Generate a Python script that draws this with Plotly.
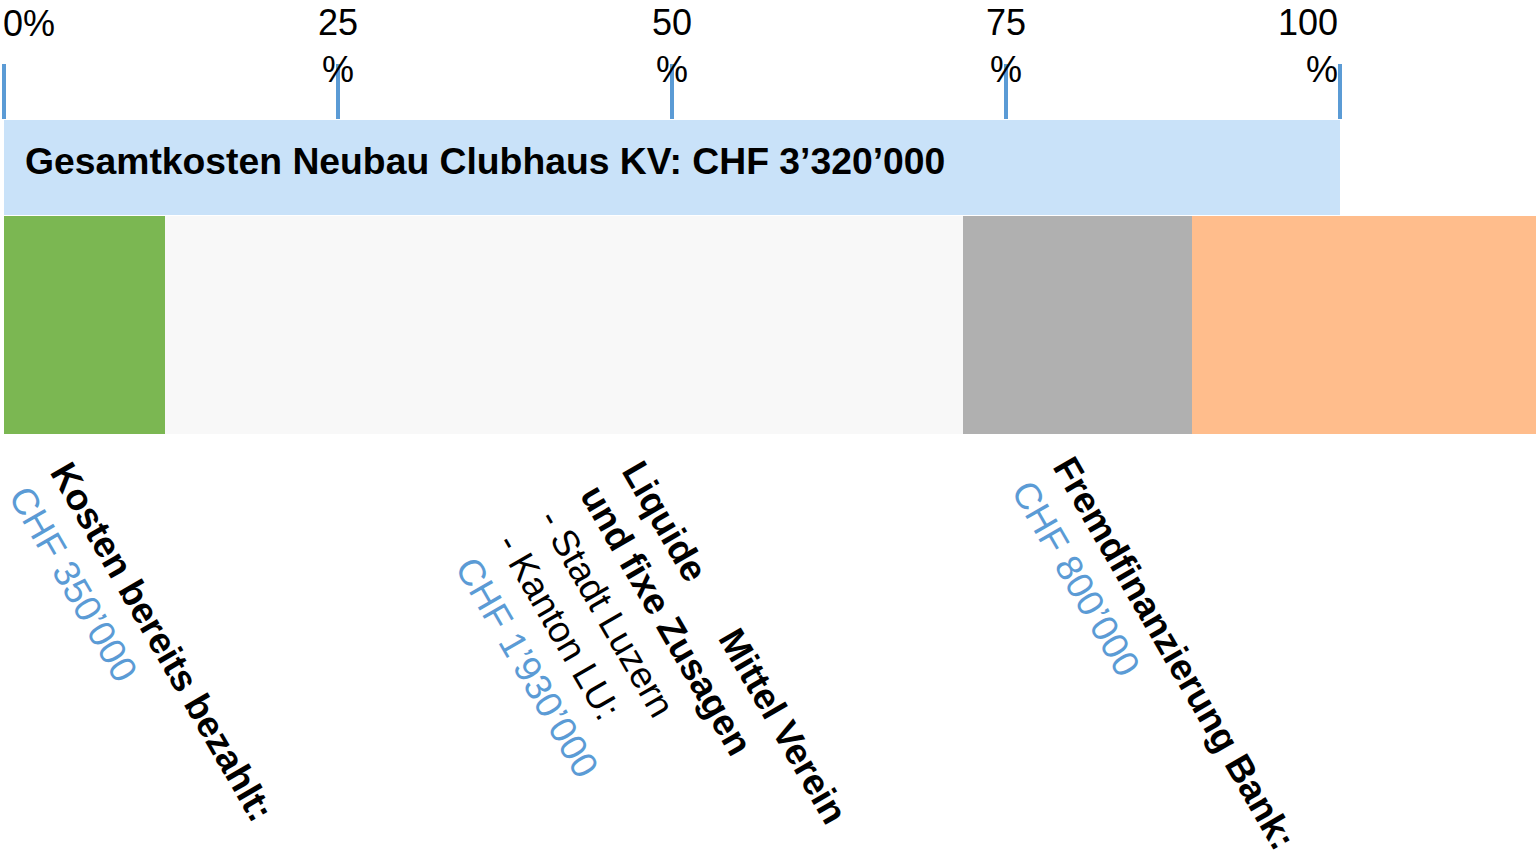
import numpy as np
import plotly.graph_objects as go

# ---------------- data ----------------
segment_names = ["Kosten bereits bezahlt", "Liquide Mittel Verein und fixe Zusagen",
                 "Fremdfinanzierung Bank", "Rest"]
segment_shares = [12.05, 59.7, 17.15, 25.8]          # percent of total cost (as drawn)
total_share = [100]                                   # Gesamtkosten = 100 %
total_label = "Gesamtkosten Neubau Clubhaus KV: CHF 3’320’000"
tick_values = [0, 25, 50, 75, 100]
tick_labels = ["0%", "25<br>%", "50<br>%", "75<br>%", "100<br>%"]
label_titles = ["Kosten bereits bezahlt:",
                "Liquide\u00a0\u00a0\u00a0\u00a0\u00a0\u00a0Mittel Verein<br>und fixe Zusagen",
                "Fremdfinanzierung Bank:"]
label_details = ["", "- Stadt Luzern<br>- Kanton LU:", ""]
label_amounts = ["CHF 350’000", "CHF 1’930’000", "CHF 800’000"]

# ---------------- style ----------------
seg_colors = ["#7bb752", "#f8f8f8", "#b0b0b0", "#ffbd8c"]
band_color = "#c9e2f9"
blue = "#5b9bd5"
FONT = "Liberation Sans, Arial, Helvetica, sans-serif"

W, H = 1536, 857
TOP = 120                      # plot area top (pixels)
PX_PER_PCT = 13.36
X0 = -4 / PX_PER_PCT
X1 = X0 + W / PX_PER_PCT

bases = np.concatenate([[0], np.cumsum(segment_shares)[:-1]])

fig = go.Figure()

# total band
fig.add_trace(go.Bar(orientation="h", y=[47.5], x=total_share, base=[0], width=[95],
                     marker=dict(color=band_color, line=dict(width=0)),
                     hoverinfo="skip", showlegend=False))
# segments
for name, share, b, c in zip(segment_names, segment_shares, bases, seg_colors):
    fig.add_trace(go.Bar(orientation="h", y=[205], x=[share], base=[b], width=[218],
                         name=name, marker=dict(color=c, line=dict(width=0)),
                         showlegend=False))

ann = []
ann.append(dict(x=0, y=47.5, xref="x", yref="y", text=f"<b>{total_label}</b>",
                showarrow=False, xanchor="left", yanchor="middle", xshift=19, yshift=7,
                font=dict(family=FONT, size=37.3, color="black")))

# tick labels
for v, t in zip(tick_values, tick_labels):
    if v == 0:
        ann.append(dict(x=v, y=1, xref="x", yref="paper", text=t, showarrow=False,
                        xanchor="left", yanchor="middle", yshift=TOP - 23, xshift=-3,
                        font=dict(family=FONT, size=36, color="black")))
    elif v == 100:
        ann.append(dict(x=v, y=1, xref="x", yref="paper", text=t, showarrow=False,
                        xanchor="right", yanchor="middle", align="right",
                        yshift=TOP - 46, xshift=0,
                        font=dict(family=FONT, size=36, color="black")))
    else:
        ann.append(dict(x=v, y=1, xref="x", yref="paper", text=t, showarrow=False,
                        xanchor="center", yanchor="middle", yshift=TOP - 46,
                        font=dict(family=FONT, size=36, color="black")))

# rotated category labels (pixel centres -> data)
centres_px = [(141, 653.4), (651.5, 690.4), (1154, 665)]
for (cx, cy), t, d, a in zip(centres_px, label_titles, label_details, label_amounts):
    txt = f"<b>{t}</b>"
    if d:
        txt += "<br>" + d
    txt += f"<br><span style='color:{blue}'>{a}</span>"
    ann.append(dict(x=(cx - 4) / PX_PER_PCT, y=cy - TOP, xref="x", yref="y", text=txt,
                    showarrow=False, textangle=60, align="left",
                    xanchor="center", yanchor="middle",
                    font=dict(family=FONT, size=37, color="black")))

fig.update_layout(
    width=W, height=H, margin=dict(l=0, r=0, t=TOP, b=0),
    paper_bgcolor="white", plot_bgcolor="white",
    barmode="overlay", bargap=0,
    xaxis=dict(range=[X0, X1], side="top", tickvals=tick_values, ticks="outside",
               ticklen=55, tickwidth=4, tickcolor=blue, showticklabels=False,
               showgrid=False, zeroline=False, showline=False, fixedrange=True),
    yaxis=dict(range=[H - TOP, 0], showticklabels=False, showgrid=False,
               zeroline=False, showline=False, fixedrange=True),
    annotations=ann,
    font=dict(family=FONT),
)

fig.write_html("out.html",
               config={"displayModeBar": False},
               post_script="document.body.style.margin='0px';"
                           "document.documentElement.style.overflow='hidden';")
